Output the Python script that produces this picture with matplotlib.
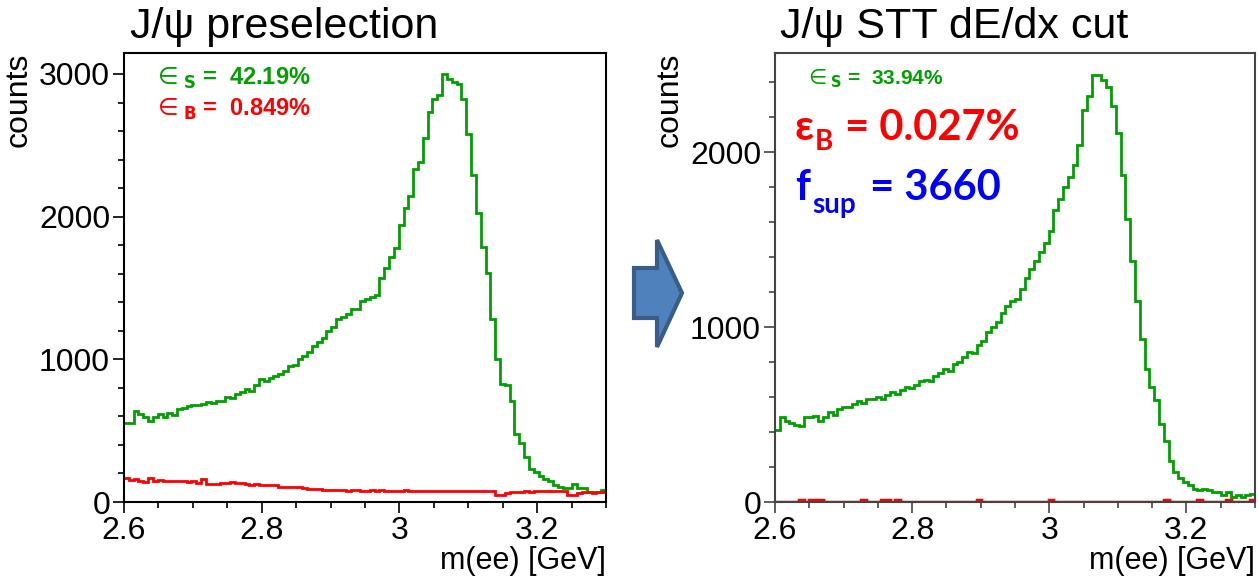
import numpy as np
import matplotlib.pyplot as plt
from matplotlib.patches import Polygon
from matplotlib.ticker import MultipleLocator

# m(ee) histograms, 100 bins between 2.6 and 3.3 GeV
edges = np.linspace(2.6, 3.3, 101)

# J/psi preselection
pre_signal = [551, 551, 640, 617, 598, 570, 598, 617, 598, 627,
              610, 652, 660, 670, 678, 680, 690, 699, 695, 710,
              710, 733, 730, 760, 770, 790, 780, 820, 860, 850,
              870, 880, 900, 920, 950, 960, 1000, 1020, 1050, 1090,
              1120, 1150, 1200, 1230, 1280, 1300, 1320, 1352, 1352, 1411,
              1420, 1434, 1450, 1572, 1638, 1715, 1782, 1941, 2063, 2147,
              2331, 2385, 2549, 2731, 2822, 2852, 2997, 2962, 2945, 2927,
              2822, 2579, 2292, 2027, 1789, 1603, 1280, 1000, 830, 820,
              710, 476, 417, 312, 230, 211, 183, 160, 148, 117,
              106, 100, 96, 124, 96, 100, 73, 73, 70, 82]
pre_background = [166, 155, 160, 148, 140, 170, 150, 152, 148, 148,
                  145, 146, 144, 142, 145, 135, 160, 125, 124, 126,
                  135, 130, 138, 132, 135, 125, 120, 124, 118, 120,
                  122, 118, 105, 108, 104, 106, 102, 95, 92, 88,
                  90, 86, 85, 85, 82, 84, 80, 82, 86, 80,
                  78, 84, 80, 82, 80, 78, 80, 78, 82, 80,
                  76, 80, 78, 80, 77, 75, 76, 74, 75, 77,
                  74, 75, 76, 74, 75, 74, 75, 47, 50, 62,
                  68, 72, 70, 75, 72, 75, 74, 76, 75, 74,
                  75, 76, 47, 50, 65, 68, 70, 66, 70, 68]

# J/psi after STT dE/dx cut
cut_signal = [410, 483, 464, 454, 440, 435, 487, 487, 493, 464,
              483, 512, 500, 531, 541, 545, 560, 580, 564, 589,
              590, 600, 590, 610, 630, 620, 640, 660, 650, 670,
              690, 700, 690, 720, 740, 760, 750, 790, 800, 830,
              860, 850, 900, 920, 970, 1000, 1030, 1080, 1120, 1150,
              1160, 1220, 1280, 1330, 1380, 1430, 1480, 1551, 1666, 1733,
              1801, 1858, 1926, 2041, 2243, 2320, 2441, 2441, 2411, 2372,
              2263, 2109, 1868, 1618, 1380, 1150, 930, 760, 660, 585,
              444, 348, 232, 174, 139, 116, 97, 77, 68, 77,
              68, 58, 58, 39, 58, 29, 39, 29, 39, 48]
cut_background = [0, 0, 0, 0, 0, 10, 0, 10, 10, 10,
                  0, 0, 0, 0, 0, 0, 0, 0, 10, 0,
                  0, 0, 10, 10, 0, 10, 0, 0, 0, 0,
                  0, 0, 0, 0, 0, 0, 0, 0, 0, 0,
                  0, 0, 10, 0, 0, 0, 0, 0, 0, 0,
                  0, 0, 0, 0, 0, 0, 0, 10, 0, 0,
                  0, 0, 0, 0, 0, 0, 0, 0, 0, 0,
                  0, 0, 0, 0, 0, 0, 0, 0, 0, 0,
                  0, 10, 0, 0, 0, 0, 0, 0, 10, 0,
                  0, 0, 0, 0, 10, 0, 0, 0, 0, 10]

titles = ["J/\u03c8 preselection", "J/\u03c8 STT dE/dx cut"]
eff_signal = ["42.19%", "33.94%"]
eff_background = ["0.849%", "0.027%"]
suppression = "3660"

GREEN = "#00a000"
RED = "#ff0000"
BLUE = "#0000ff"

plt.rcParams["font.family"] = ["Liberation Sans Narrow", "Liberation Sans", "DejaVu Sans"]

W, H = 1258, 577
fig = plt.figure(figsize=(W / 100, H / 100), dpi=100)


def px_axes(x0, y0, x1, y1):
    return fig.add_axes([x0 / W, 1 - y1 / H, (x1 - x0) / W, (y1 - y0) / H])


def style_axes(ax, ymax, spine_color):
    ax.set_xlim(2.6, 3.3)
    ax.set_ylim(0, ymax)
    ax.xaxis.set_major_locator(MultipleLocator(0.2))
    ax.xaxis.set_minor_locator(MultipleLocator(0.05))
    ax.yaxis.set_major_locator(MultipleLocator(1000))
    ax.yaxis.set_minor_locator(MultipleLocator(200))
    ax.xaxis.set_major_formatter(plt.FuncFormatter(lambda v, p: f"{v:g}"))
    ax.tick_params(which="major", direction="out", length=8, width=1.2,
                   labelsize=23, colors=spine_color, labelcolor="black", pad=2)
    ax.tick_params(which="minor", direction="out", length=4, width=1.2,
                   colors=spine_color)
    ax.tick_params(top=False, right=False)
    for s in ax.spines.values():
        s.set_color(spine_color)
        s.set_linewidth(1.5)
    ax.set_ylabel("counts", fontsize=23, loc="top", labelpad=4)
    ax.set_xlabel("m(ee) [GeV]", fontsize=22, loc="right", labelpad=0)


ax1 = px_axes(124, 53, 606, 502)
ax1.stairs(pre_signal, edges, color=GREEN, lw=2, baseline=None)
ax1.stairs(pre_background, edges, color=RED, lw=2, baseline=None)
style_axes(ax1, 3147, "black")
fig.text(130 / W, 1 - 38 / H, titles[0], fontsize=31)
ax1.text(0.06, 0.93, r"$\in_{\mathbf{S}}$" + " =  " + eff_signal[0], color=GREEN,
         fontsize=17, fontweight="bold", transform=ax1.transAxes)
ax1.text(0.06, 0.86, r"$\in_{\mathbf{B}}$" + " =  " + eff_background[0], color=RED,
         fontsize=17, fontweight="bold", transform=ax1.transAxes)

ax2 = px_axes(775, 53, 1255, 502)
ax2.stairs(cut_signal, edges, color=GREEN, lw=2, baseline=None)
ax2.stairs(cut_background, edges, color=RED, lw=2.5, baseline=None)
style_axes(ax2, 2566, "#444444")
fig.text(780 / W, 1 - 38 / H, titles[1], fontsize=31)
ax2.text(0.06, 0.93, r"$\in_{\mathbf{S}}$" + " =  " + eff_signal[1], color=GREEN,
         fontsize=15, fontweight="bold", transform=ax2.transAxes)
fig.text(795 / W, 1 - 140 / H, "\u03b5", fontsize=30, fontweight="bold",
         color=RED, family="Lato")
fig.text(815 / W, 1 - 150 / H, "B", fontsize=20, fontweight="bold",
         color=RED, family="Lato")
fig.text(845 / W, 1 - 140 / H, "= " + eff_background[1], fontsize=30,
         fontweight="bold", color=RED, family="Lato")
fig.text(795 / W, 1 - 200 / H, "f", fontsize=30, fontweight="bold",
         color=BLUE, family="Lato")
fig.text(812 / W, 1 - 213 / H, "sup", fontsize=20, fontweight="bold",
         color=BLUE, family="Lato")
fig.text(870 / W, 1 - 200 / H, "= " + suppression, fontsize=30,
         fontweight="bold", color=BLUE, family="Lato")

# block arrow between the two panels
arrow = np.array([[634, 268], [657, 268], [657, 240], [682, 293],
                  [657, 347], [657, 318], [634, 318]], dtype=float)
fig.patches.append(Polygon(np.column_stack([arrow[:, 0] / W, 1 - arrow[:, 1] / H]),
                           closed=True, facecolor="#4f81bd", edgecolor="#385d8a",
                           lw=3, transform=fig.transFigure))

fig.savefig("out.png", dpi=100)
